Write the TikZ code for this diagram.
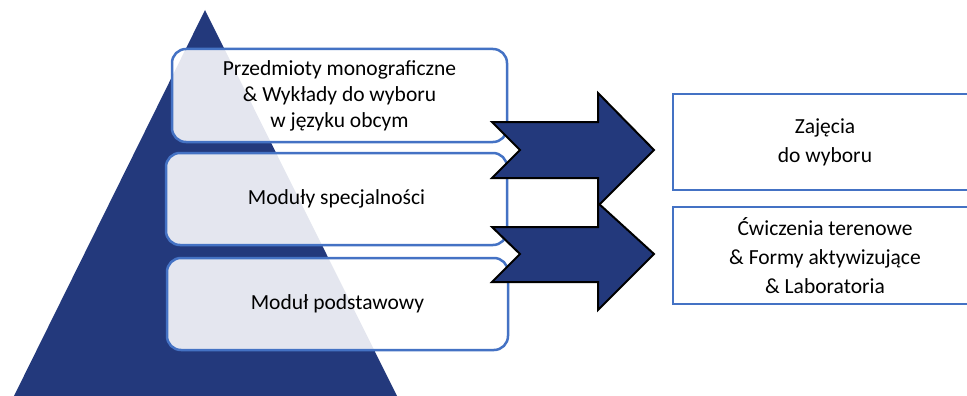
\documentclass[tikz,border=0pt]{standalone}
\usepackage{fontspec}
\setmainfont{Carlito}
\definecolor{navy}{RGB}{35,57,124}
\definecolor{boxblue}{RGB}{68,114,196}
\begin{document}
\begin{tikzpicture}[x=1pt,y=-1pt,
  lbox/.style={draw=boxblue,line width=2.5pt,rounded corners=14pt,fill=white,fill opacity=0.88,text opacity=1,
    align=center,font=\fontsize{21.5}{26}\selectfont,inner sep=0pt},
  rbox/.style={draw=boxblue,line width=2.5pt,fill=white,align=center,inner sep=0pt,font=\fontsize{21.5}{29}\selectfont},
  bigarrow/.style={fill=navy,draw=black,line width=2pt,line join=miter}]
\useasboundingbox (0,0) rectangle (967,396);
% pyramid
\coordinate (apex) at (205,10);
\coordinate (bl) at (12,400);
\coordinate (br) at (399,400);
\fill[navy] (apex) -- (br) -- (bl) -- cycle;
% left boxes
\node[lbox,minimum width=335,minimum height=93] (b1) at (339.5,95.5)
  {Przedmioty monograficzne\\\& Wykłady do wyboru\\w języku obcym};
\node[lbox,minimum width=341,minimum height=92] (b2) at (336.5,199) {Moduły specjalności};
\node[lbox,minimum width=341,minimum height=92] (b3) at (337.5,304) {Moduł podstawowy};
% right boxes
\node[rbox,minimum width=304,minimum height=96] (r1) at (825,142) {Zajęcia\\do wyboru};
\node[rbox,minimum width=304,minimum height=97] (r2) at (825,255.5)
  {\fontsize{21.5}{26}\selectfont Ćwiczenia terenowe\\\& Formy aktywizujące\\\& Laboratoria};
% arrows
\draw[bigarrow] (492,122) -- (598,122) -- (598,93) -- (654,150) -- (598,206) -- (598,178)
  -- (492,178) -- (520,150) -- cycle;
\draw[bigarrow] (492,227) -- (598,227) -- (598,203) -- (654,254) -- (598,310) -- (598,282)
  -- (492,282) -- (520,254) -- cycle;
\end{tikzpicture}
\end{document}
